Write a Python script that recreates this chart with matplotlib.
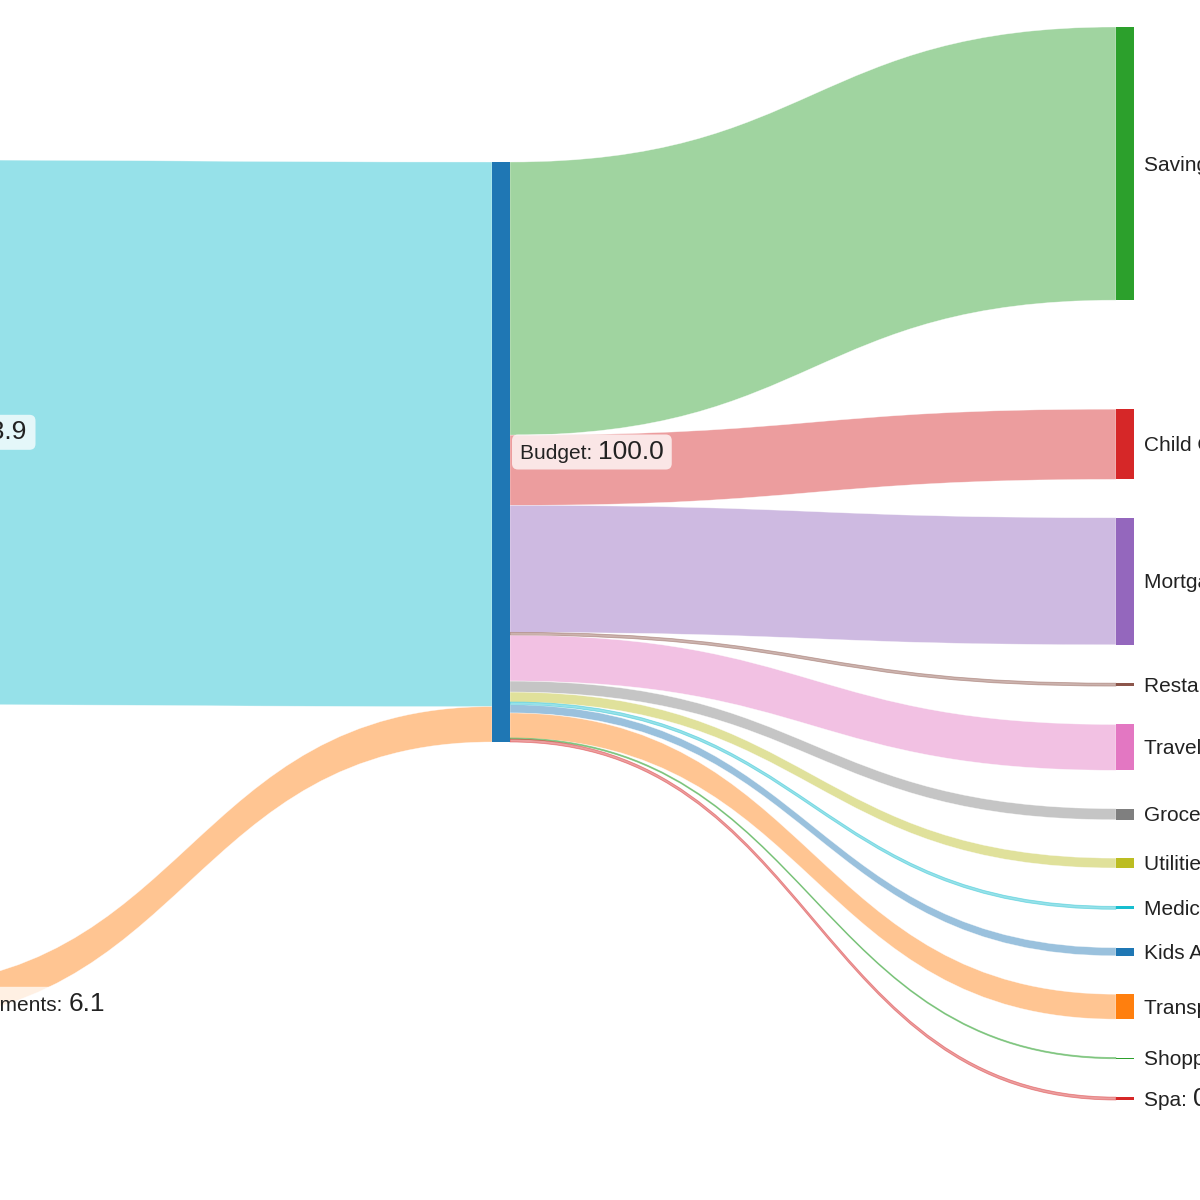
# -*- coding: utf-8 -*-
"""Budget sankey: income sources -> Budget -> spending categories (cropped view)."""
import numpy as np
import matplotlib
matplotlib.use("Agg")
import matplotlib.pyplot as plt
from matplotlib.path import Path
from matplotlib.patches import PathPatch, Rectangle, FancyBboxPatch
from matplotlib.colors import to_rgba

plt.rcParams["font.family"] = ["Liberation Sans", "DejaVu Sans"]

# ---- data ---------------------------------------------------------------
sources = ["Income", "Side Investments"]
source_values = [93.9, 6.1]
source_colors = ["#17becf", "#ff7f0e"]

hub = "Budget"
hub_color = "#1f77b4"

targets = ["Savings", "Child Care", "Mortgage", "Restaurants", "Travel",
           "Groceries", "Utilities", "Medical", "Kids Activities",
           "Transport", "Shopping", "Spa"]
target_values = [47.1, 12.1, 21.9, 0.5, 7.9, 1.9, 1.7, 0.5, 1.4, 4.3, 0.2, 0.5]
target_colors = ["#2ca02c", "#d62728", "#9467bd", "#8c564b", "#e377c2",
                 "#7f7f7f", "#bcbd22", "#17becf", "#1f77b4", "#ff7f0e",
                 "#2ca02c", "#d62728"]

# ---- layout (pixels, y down) -------------------------------------------
SCALE = 5.8          # px per unit
NODE_W = 18
COL_X = [-132, 492, 1116]
COL0_TOP, COL0_PAD = 160, [282]
COL1_TOP = 162
COL2_TOP, COL2_PAD = 27, [109] + [38.4] * 10
LINK_ALPHA = 0.45
NAME_FS, VALUE_FS = 15, 19
INK = "#222222"


def stack(top, values, pads):
    ys, y = [], top
    for i, v in enumerate(values):
        ys.append((y, y + v * SCALE))
        y += v * SCALE + (pads[i] if i < len(pads) else 0)
    return ys


def band(ax, x0, y0t, y0b, x1, y1t, y1b, color):
    xm = (x0 + x1) / 2
    verts = [(x0, y0t), (xm, y0t), (xm, y1t), (x1, y1t), (x1, y1b),
             (xm, y1b), (xm, y0b), (x0, y0b), (x0, y0t)]
    codes = [Path.MOVETO, Path.CURVE4, Path.CURVE4, Path.CURVE4, Path.LINETO,
             Path.CURVE4, Path.CURVE4, Path.CURVE4, Path.CLOSEPOLY]
    thin = (y0b - y0t) < 4
    ax.add_patch(PathPatch(Path(verts, codes), facecolor=to_rgba(color, LINK_ALPHA),
                           edgecolor=to_rgba(color, LINK_ALPHA) if thin else (1, 1, 1, 0.6),
                           lw=0.6 if thin else 0.4, zorder=1))


def node(ax, x, yt, yb, color):
    ax.add_patch(Rectangle((x, yt), NODE_W, yb - yt, facecolor=color,
                           edgecolor="none", zorder=2))


def label(ax, rend, x, yc, name, value):
    base = yc + 7
    t1 = ax.text(x, base, f"{name}: ", fontsize=NAME_FS, color=INK, va="baseline",
                 ha="left", zorder=4)
    bb1 = t1.get_window_extent(rend).transformed(ax.transData.inverted())
    t2 = ax.text(bb1.x1, base, f"{value:.1f}", fontsize=VALUE_FS, color=INK,
                 va="baseline", ha="left", zorder=4)
    bb2 = t2.get_window_extent(rend).transformed(ax.transData.inverted())
    ax.add_patch(FancyBboxPatch((x - 8, yc - 17.5), bb2.x1 - x + 16, 35,
                                boxstyle="round,pad=0,rounding_size=6",
                                facecolor=(1, 1, 1, 0.75), edgecolor="none", zorder=3))


def main():
    fig = plt.figure(figsize=(12, 12), dpi=100)
    ax = fig.add_axes([0, 0, 1, 1])
    ax.set_xlim(0, 1200)
    ax.set_ylim(1200, 0)
    ax.axis("off")
    rend = fig.canvas.get_renderer()

    src_pos = stack(COL0_TOP, source_values, COL0_PAD)
    hub_pos = (COL1_TOP, COL1_TOP + sum(source_values) * SCALE)
    tgt_pos = stack(COL2_TOP, target_values, COL2_PAD)

    # inflows
    y = hub_pos[0]
    for (yt, yb), v, c in zip(src_pos, source_values, source_colors):
        band(ax, COL_X[0] + NODE_W, yt, yb, COL_X[1], y, y + v * SCALE, c)
        y += v * SCALE
    # outflows
    y = hub_pos[0]
    for (yt, yb), v, c in zip(tgt_pos, target_values, target_colors):
        band(ax, COL_X[1] + NODE_W, y, y + v * SCALE, COL_X[2], yt, yb, c)
        y += v * SCALE

    for (yt, yb), c in zip(src_pos, source_colors):
        node(ax, COL_X[0], yt, yb, c)
    node(ax, COL_X[1], hub_pos[0], hub_pos[1], hub_color)
    for (yt, yb), c in zip(tgt_pos, target_colors):
        node(ax, COL_X[2], yt, yb, c)

    lx = [cx + NODE_W + 10 for cx in COL_X]
    for (yt, yb), n, v in zip(src_pos, sources, source_values):
        label(ax, rend, lx[0], (yt + yb) / 2, n, v)
    label(ax, rend, lx[1], sum(hub_pos) / 2, hub, sum(source_values))
    for (yt, yb), n, v in zip(tgt_pos, targets, target_values):
        label(ax, rend, lx[2], (yt + yb) / 2, n, v)

    fig.savefig("out.png", dpi=100, facecolor="white")
    plt.close(fig)


if __name__ == "__main__":
    main()
